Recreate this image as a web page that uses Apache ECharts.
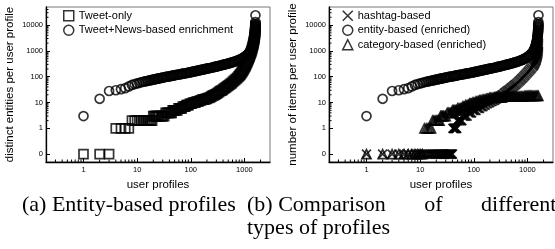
<!DOCTYPE html>
<html>
<head>
<meta charset="utf-8">
<script src="https://cdn.jsdelivr.net/npm/echarts@6/dist/echarts.min.js"></script>
<style>
  html, body { margin: 0; padding: 0; background: #fff; }
  #chart { width: 555px; height: 249px; }
</style>
</head>
<body>
<div id="chart"></div>
<script>
// [user profile rank, value]
const tweetOnly = [[1,0],[2,0],[3,0],[4,1],[5,1],[6,1],[7,1],[8,2],[9,2],[10,2],[11,2],[12,2],[13,2],[14,2],[15,2],
  [16,2],[17,2],[18,2],[19,2],[20,3],[21,3],[22,3],[23,3],[24,3],[25,3],[26,3],[28,3],[29,3],[30,3],[32,3],[34,4],[36,4],
  [38,4],[40,4],[42,4],[44,4],[46,5],[48,5],[50,5],[53,5],[56,5],[59,6],[62,6],[65,6],[68,6],[71,7],[75,7],[79,7],[83,8],
  [87,8],[91,8],[96,9],[100,9],[105,9],[110,10],[116,10],[122,10],[128,11],[134,11],[141,11],[148,12],[155,12],[163,13],
  [171,13],[180,13],[189,14],[198,14],[208,15],[218,15],[229,16],[240,17],[252,18],[265,19],[278,20],[292,21],[307,22],
  [322,24],[338,26],[355,28],[373,29],[392,31],[411,34],[432,36],[453,39],[476,42],[500,45],[525,49],[551,53],[579,57],
  [608,63],[638,69],[670,75],[703,83],[738,91],[775,101],[800,108],[825,117],[850,127],[875,138],[900,150],[925,164],
  [950,180],[975,198],[1000,218],[1025,240],[1050,265],[1075,293],[1100,325],[1125,360],[1150,400],[1175,445],[1200,495],
  [1225,550],[1250,615],[1275,690],[1300,770],[1325,860],[1350,960],[1372,1070],[1394,1200],[1415,1350],[1435,1510],
  [1454,1700],[1472,1900],[1489,2130],[1505,2390],[1520,2680],[1534,3000],[1547,3360],[1559,3770],[1569,4220],[1578,4730],
  [1585,5300],[1591,5940],[1596,6650],[1600,7450],[1602,8300],[1604,9300]];

const tweetNewsEnriched = [[1,3],[2,14],[3,28],[4,30],[5,33],[6,36],[7,42],[8,48],[9,52],[10,55],[11,58],[12,61],[13,64],
  [14,66],[15,68],[16,70],[17,72],[18,74],[19,76],[20,78],[21,79],[22,81],[23,82],[24,84],[25,85],[26,87],[28,90],[29,91],
  [30,93],[32,95],[34,98],[36,100],[38,102],[40,104],[42,106],[44,108],[46,110],[48,112],[50,114],[53,117],[56,119],
  [59,121],[62,124],[65,126],[68,128],[71,131],[75,134],[79,136],[83,139],[87,142],[91,144],[96,147],[100,150],[105,153],
  [110,157],[116,161],[122,164],[128,168],[134,171],[141,175],[148,179],[155,183],[163,187],[171,191],[180,196],[189,200],
  [198,204],[208,209],[218,213],[229,218],[240,223],[252,228],[265,234],[278,240],[292,246],[307,252],[322,258],[338,265],
  [355,271],[373,278],[392,286],[411,293],[432,301],[453,309],[476,318],[500,327],[525,336],[551,346],[579,357],[608,368],
  [638,380],[670,393],[703,407],[738,422],[775,439],[814,458],[855,480],[897,505],[942,535],[989,570],[1038,612],
  [1090,665],[1145,730],[1202,810],[1262,910],[1290,970],[1315,1040],[1340,1120],[1362,1210],[1383,1310],[1403,1420],
  [1421,1540],[1438,1670],[1454,1810],[1469,1960],[1483,2130],[1496,2310],[1508,2510],[1519,2730],[1529,2960],[1538,3210],
  [1546,3480],[1553,3780],[1560,4100],[1566,4450],[1571,4830],[1576,5240],[1580,5690],[1584,6170],[1587,6700],[1590,7270],
  [1593,7890],[1596,8560],[1598,9290],[1600,10100],[1602,11000],[1603,13000],[1606,24000]];

const hashtagBased = [[1,0],[2,0],[3,0],[4,0],[5,0],[6,0],[7,0],[8,0],[9,0],[10,0],[11,0],[12,0],[13,0],[14,0],[15,0],
  [16,0],[17,0],[18,0],[19,0],[20,0],[21,0],[22,0],[23,0],[24,0],[25,0],[26,0],[27,0],[28,0],[29,0],[30,0],[31,0],[32,0],
  [33,0],[34,0],[35,0],[36,0],[37,0],[38,0],[39,0],[40,0],[41,1],[42,1],[43,1],[44,1],[45,1],[46,1],[47,1],[48,1],
  [49,2],[50,2],[52,2],[54,2],[56,2],[58,2],[60,2],[62,3],[65,3],[68,3],[71,3],[75,3],[79,4],[83,4],[87,4],[91,4],[96,5],
  [100,5],[105,5],[110,5],[116,6],[122,6],[128,6],[134,7],[141,7],[148,7],[155,8],[163,8],[171,9],[180,9],[189,10],[198,10],
  [208,11],[218,11],[229,12],[240,12],[252,13],[265,14],[278,15],[292,16],[307,17],[322,18],[338,20],[355,21],[373,23],
  [392,25],[411,27],[432,29],[453,31],[476,34],[500,37],[525,40],[551,43],[579,47],[608,51],[638,56],[670,61],[703,67],
  [738,74],[775,82],[814,91],[855,101],[897,112],[942,125],[989,140],[1038,157],[1090,176],[1145,198],[1202,222],
  [1262,250],[1300,275],[1335,300],[1368,330],[1398,365],[1425,400],[1450,440],[1472,485],[1492,535],[1510,590],[1526,650],
  [1540,715],[1553,790],[1565,870],[1575,960],[1584,1060],[1590,1170],[1594,1290],[1597,1420],[1599,1560],[1601,1720],
  [1603,1900]];

const entityEnriched = tweetNewsEnriched;

const categoryEnriched = [[1,0],[2,0],[3,0],[4,0],[5,0],[6,0],[7,0],[8,0],[9,0],[10,0],[11,0],[12,1],[13,1],[14,1],[15,1],
  [16,1],[17,2],[18,2],[19,2],[20,2],[21,2],[22,2],[23,2],[24,3],[25,3],[26,3],[27,3],[28,3],[30,3],[32,4],[34,4],[36,4],
  [38,4],[40,5],[42,5],[44,5],[46,5],[48,5],[50,6],[53,6],[56,6],[59,6],[62,7],[65,7],[68,7],[71,8],[75,8],[79,8],[83,9],
  [87,9],[91,9],[96,10],[100,10],[105,10],[110,11],[116,11],[122,11],[128,12],[134,12],[141,12],[148,13],[155,13],[163,13],
  [171,14],[180,14],[189,14],[198,15],[208,15],[218,15],[229,15],[240,16],[252,16],[265,16],[278,16],[292,16],[307,16],
  [322,16],[338,16],[355,17],[373,17],[392,17],[411,17],[432,17],[453,17],[476,17],[500,17],[525,17],[551,17],[579,17],
  [608,17],[638,17],[670,17],[703,17],[738,17],[775,17],[814,17],[855,17],[897,18],[942,18],[989,18],[1038,18],[1090,18],
  [1145,18],[1202,18],[1262,18],[1325,18],[1391,18],[1460,18],[1533,18],[1600,18]];

// minor tick positions (log axes)
const xMinorTicks = [0.3,0.4,0.5,0.6,0.7,0.8,0.9,2,3,4,5,6,7,8,9,20,30,40,50,60,70,80,90,200,300,400,500,600,700,800,900,2000];
const yMinorTicks = [2,3,4,5,6,7,8,9,20,30,40,50,60,70,80,90,200,300,400,500,600,700,800,900,
  2000,3000,4000,5000,6000,7000,8000,9000,20000,30000,40000];

const legendA = ['Tweet-only', 'Tweet+News-based enrichment'];
const legendB = ['hashtag-based', 'entity-based (enriched)', 'category-based (enriched)'];
const yTitles = ['distinct entities per user profile', 'number of items per user profile'];
const xTitle = 'user profiles';
const captionA = '(a) Entity-based profiles';
const captionB = '(b) Comparison       of       different\ntypes of profiles';

const X_MIN = 0.2, X_MAX = 3000, Y_MIN = 0.05, Y_MAX = 50000;
const ZERO_AT = 0.1; // "0" is drawn one decade below 1
const SANS = 'Liberation Sans';
const CROSS = 'path://M0,0L10,10M0,10L10,0';

function toPlot(arr) {
  return arr.map(p => [p[0], p[1] === 0 ? ZERO_AT : p[1]]);
}

function makeX(i) {
  return {
    type: 'log', logBase: 10, gridIndex: i, min: X_MIN, max: X_MAX, splitNumber: 5,
    name: xTitle, nameLocation: 'middle', nameGap: 12,
    nameTextStyle: { fontFamily: SANS, fontSize: 11.5, color: '#000' },
    axisLine: { show: true, lineStyle: { color: '#000', width: 1.3 } },
    axisTick: { inside: true, length: 4, lineStyle: { color: '#000' } },
    axisLabel: {
      showMinLabel: false, showMaxLabel: false, fontFamily: SANS, fontSize: 7.5, color: '#000', margin: 4,
      formatter: v => String(Math.round(v))
    },
    splitLine: { show: false }
  };
}

function makeY(i) {
  return {
    type: 'log', logBase: 10, gridIndex: i, min: Y_MIN, max: Y_MAX, splitNumber: 6,
    name: yTitles[i], nameLocation: 'middle', nameGap: 30, nameRotate: 90,
    nameTextStyle: { fontFamily: SANS, fontSize: 11.5, color: '#000' },
    axisLine: { show: true, lineStyle: { color: '#000', width: 1.3 } },
    axisTick: { inside: true, length: 4, lineStyle: { color: '#000' } },
    axisLabel: {
      showMinLabel: false, showMaxLabel: false, fontFamily: SANS, fontSize: 7.5, color: '#000', margin: 3,
      formatter: v => (v < 0.5 ? '0' : String(Math.round(v)))
    },
    splitLine: { show: false }
  };
}

function scatter(name, data, symbol, i) {
  return {
    type: 'scatter', name: name, xAxisIndex: i, yAxisIndex: i,
    data: toPlot(data), symbol: symbol, symbolSize: 9,
    itemStyle: { color: 'rgba(0,0,0,0)', borderColor: '#000', borderWidth: 1.7 },
    emphasis: { disabled: true }
  };
}

function minorTicks(i) {
  const data = xMinorTicks.map(v => [v, Y_MIN, 0]).concat(yMinorTicks.map(v => [X_MIN, v, 1]));
  return {
    type: 'custom', xAxisIndex: i, yAxisIndex: i, silent: true, z: 5, data: data,
    renderItem: function (params, api) {
      const p = api.coord([api.value(0), api.value(1)]);
      const horiz = api.value(2) === 1;
      return {
        type: 'line',
        shape: horiz ? { x1: p[0], y1: p[1], x2: p[0] + 2.5, y2: p[1] } : { x1: p[0], y1: p[1], x2: p[0], y2: p[1] - 2.5 },
        style: { stroke: '#000', lineWidth: 1 }
      };
    }
  };
}

const legendCommon = {
  orient: 'vertical', itemWidth: 10, itemHeight: 10, itemGap: 3, itemTextGap: 7,
  textStyle: { fontFamily: SANS, fontSize: 11, color: '#000' },
  itemStyle: { borderWidth: 1.5 }, selectedMode: false
};

const chart = echarts.init(document.getElementById('chart'), null, { renderer: 'canvas' });
chart.setOption({
  animation: false,
  grid: [
    { left: 46, top: 7, width: 224, height: 155, show: true, borderColor: '#777', borderWidth: 1 },
    { left: 329, top: 7, width: 224, height: 155, show: true, borderColor: '#777', borderWidth: 1 }
  ],
  xAxis: [makeX(0), makeX(1)],
  yAxis: [makeY(0), makeY(1)],
  legend: [
    Object.assign({ left: 58, top: 5, data: legendA }, legendCommon),
    Object.assign({ left: 337, top: 5, data: legendB }, legendCommon)
  ],
  series: [
    scatter(legendA[0], tweetOnly, 'rect', 0),
    scatter(legendA[1], tweetNewsEnriched, 'circle', 0),
    scatter(legendB[0], hashtagBased, CROSS, 1),
    scatter(legendB[1], entityEnriched, 'circle', 1),
    scatter(legendB[2], categoryEnriched, 'triangle', 1),
    minorTicks(0),
    minorTicks(1)
  ],
  graphic: [
    { type: 'text', left: 22, top: 194, style: { text: captionA, font: '22px "Liberation Serif"', fill: '#000' } },
    { type: 'text', left: 247, top: 194, style: { text: captionB, font: '22px "Liberation Serif"', fill: '#000', lineHeight: 23 } }
  ]
});
</script>
</body>
</html>
